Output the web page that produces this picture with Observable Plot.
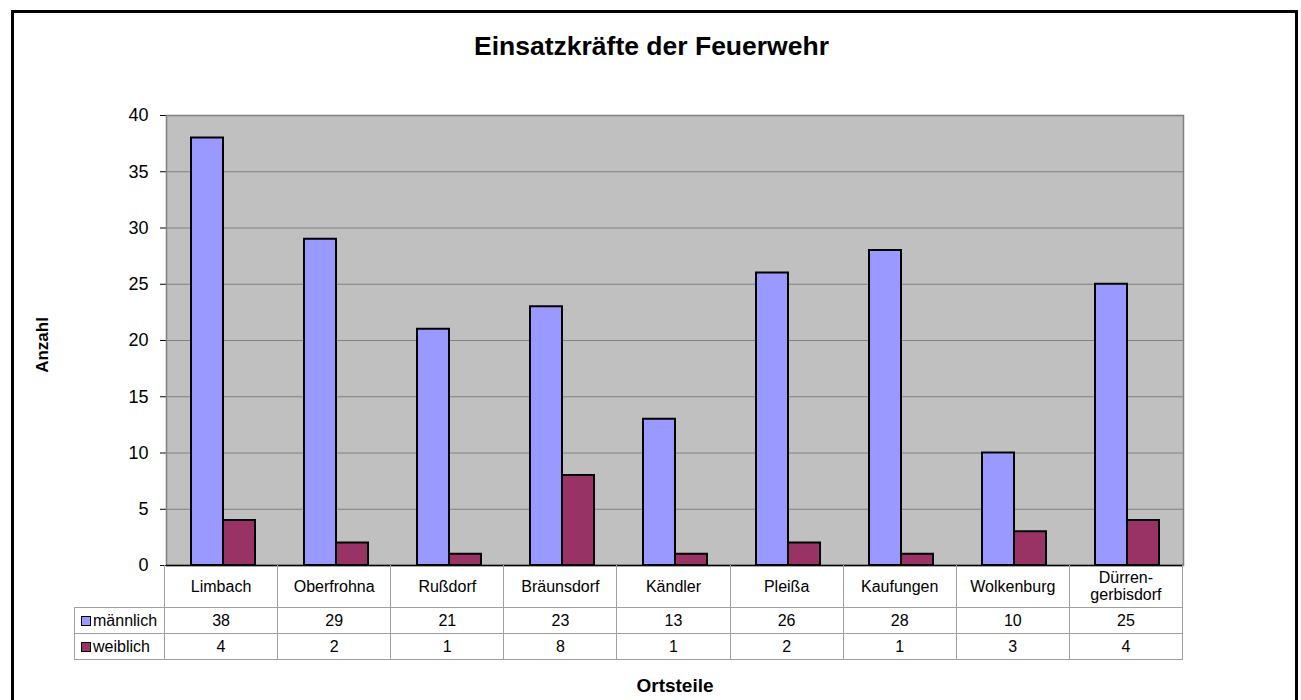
<!DOCTYPE html>
<html>
<head>
<meta charset="utf-8">
<script src="https://cdn.jsdelivr.net/npm/d3@7"></script>
<script src="https://cdn.jsdelivr.net/npm/@observablehq/plot@0.6"></script>
<style>
  html, body { margin: 0; padding: 0; background: #fff; }
  #root { position: relative; width: 1301px; height: 700px; overflow: hidden; background: #fff;
          font-family: "Liberation Sans", Arial, sans-serif; color: #000; }
  #border { position: absolute; left: 11px; top: 10px; width: 1281px; height: 760px; border: 3px solid #000; }
  #title { position: absolute; left: 0; width: 1303px; top: 30px; text-align: center; font-weight: bold; font-size: 26.5px; line-height: 32px; }
  #ylabel { position: absolute; left: 43px; top: 345px; transform: translate(-50%, -50%) rotate(-90deg); font-weight: bold; font-size: 17px; white-space: nowrap; }
  #xlabel { position: absolute; left: 0; width: 1350px; top: 676px; text-align: center; font-weight: bold; font-size: 19px; line-height: 20px; }
  #chart { position: absolute; left: 0; top: 0; }
  #tbl { position: absolute; left: 74px; top: 565px; border-collapse: collapse; table-layout: fixed; width: 1109px;
         font-size: 16px; }
  #tbl td { border: 1px solid #a0a0a0; padding: 0; text-align: center; vertical-align: middle; line-height: 17px; }
  #tbl tr.head td { border-top: none; height: 42px; }
  #tbl tr.head td.first { border-left: none; }
  #tbl tr.val td { height: 25px; }
  #tbl td.key { text-align: left; padding-left: 6px; white-space: nowrap; }
  .swatch { display: inline-block; width: 8px; height: 8px; border: 1px solid #000; margin-right: 2px; vertical-align: 0px; }
</style>
</head>
<body>
<div id="root">
  <div id="border"></div>
  <div id="title">Einsatzkräfte der Feuerwehr</div>
  <div id="ylabel">Anzahl</div>
  <div id="chart"></div>
  <table id="tbl"></table>
  <div id="xlabel">Ortsteile</div>
</div>
<script>
const categories = ["Limbach", "Oberfrohna", "Rußdorf", "Bräunsdorf", "Kändler", "Pleißa", "Kaufungen", "Wolkenburg", "Dürrengerbisdorf"];
const categoryLabels = ["Limbach", "Oberfrohna", "Rußdorf", "Bräunsdorf", "Kändler", "Pleißa", "Kaufungen", "Wolkenburg", "Dürren-\ngerbisdorf"];
const series = ["männlich", "weiblich"];
const maennlich = [38, 29, 21, 23, 13, 26, 28, 10, 25];
const weiblich = [4, 2, 1, 8, 1, 2, 1, 3, 4];
const seriesColors = ["#9999FF", "#993366"];
const yTicks = [0, 5, 10, 15, 20, 25, 30, 35, 40];

const seriesValues = [maennlich, weiblich];
const data = categories.flatMap((c, i) => series.map((s, j) => ({cat: c, s, v: seriesValues[j][i]})));

const chart = Plot.plot({
  width: 1301,
  height: 700,
  marginLeft: 165,
  marginRight: 118,
  marginTop: 115,
  marginBottom: 135,
  style: {fontFamily: "'Liberation Sans', Arial, sans-serif", fontSize: "18px", background: "transparent", overflow: "visible", color: "#000"},
  fx: {domain: categories, padding: 0, axis: null, label: null},
  x: {domain: series, paddingInner: 0, paddingOuter: 0.75, axis: null},
  y: {domain: [0, 40], ticks: yTicks, tickSize: 6, tickPadding: 12, line: true, label: null},
  color: {domain: series, range: seriesColors},
  marks: [
    Plot.frame({facet: "super", fill: "#C0C0C0", stroke: null}),
    Plot.ruleY(yTicks, {stroke: "#808080", strokeWidth: 1}),
    Plot.frame({facet: "super", fill: "none", stroke: "#808080", strokeWidth: 1.5}),
    Plot.barY(data, {fx: "cat", x: "s", y: "v", fill: "s", stroke: "#000", strokeWidth: 2}),
    Plot.ruleY([0], {stroke: "#000", strokeWidth: 1.5})
  ]
});
document.getElementById("chart").appendChild(chart);

// data table below the chart
const tbl = document.getElementById("tbl");
const colgroup = document.createElement("colgroup");
const c0 = document.createElement("col"); c0.style.width = "90px"; colgroup.appendChild(c0);
categories.forEach(() => { const c = document.createElement("col"); c.style.width = (1018 / categories.length) + "px"; colgroup.appendChild(c); });
tbl.appendChild(colgroup);

const head = document.createElement("tr"); head.className = "head";
const h0 = document.createElement("td"); h0.className = "first"; head.appendChild(h0);
categoryLabels.forEach(lbl => {
  const td = document.createElement("td");
  lbl.split("\n").forEach((line, k) => { if (k) td.appendChild(document.createElement("br")); td.appendChild(document.createTextNode(line)); });
  head.appendChild(td);
});
tbl.appendChild(head);

series.forEach((s, j) => {
  const tr = document.createElement("tr"); tr.className = "val";
  const k = document.createElement("td"); k.className = "key";
  const sw = document.createElement("span"); sw.className = "swatch"; sw.style.background = seriesColors[j];
  k.appendChild(sw); k.appendChild(document.createTextNode(s));
  tr.appendChild(k);
  seriesValues[j].forEach(v => { const td = document.createElement("td"); td.textContent = v; tr.appendChild(td); });
  tbl.appendChild(tr);
});
</script>
</body>
</html>
